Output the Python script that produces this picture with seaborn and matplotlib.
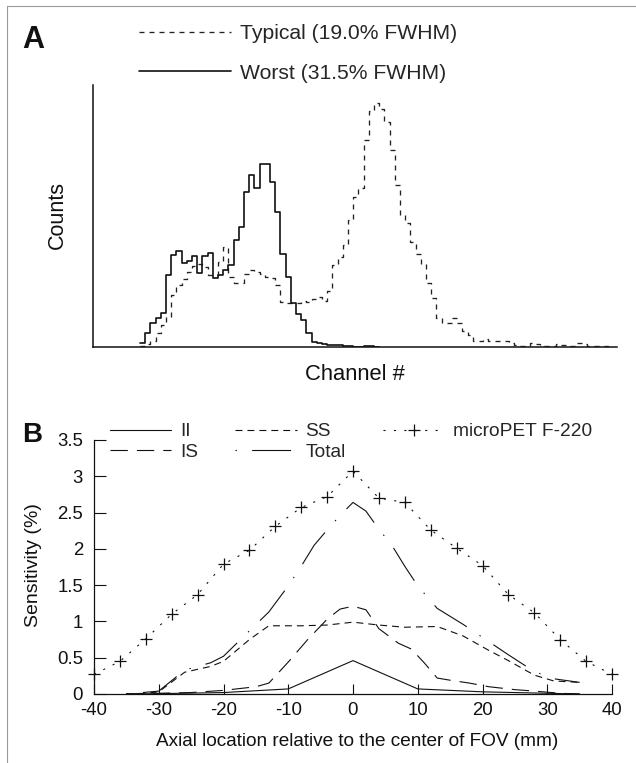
import numpy as np
import pandas as pd
import matplotlib
matplotlib.use("Agg")
import matplotlib.pyplot as plt
import seaborn as sns
from matplotlib.lines import Line2D

# ---------------- Panel A: energy spectra (counts per channel bin) ----------------
worst_counts = [4, 14, 24, 29, 34, 72, 92, 96, 84, 86, 91, 74, 91, 94, 69, 72, 77, 82,
                107, 120, 155, 172, 159, 183, 183, 165, 135, 93, 70, 44, 33, 27, 14, 5,
                4, 3, 2.5, 2, 2, 1.5, 1, 0.5, 0.5, 1, 1, 0.5]
typical_counts = [1.5, 3, 6, 14, 22, 30, 52, 62, 68, 75, 81, 83, 80, 72, 72, 85, 100, 70,
                  64, 64, 73, 77, 75, 73, 70, 69, 62, 45, 44, 44, 44, 46, 45, 48, 50, 46,
                  56, 82, 90, 102, 127, 150, 159, 207, 236, 244, 238, 225, 197, 162, 132,
                  124, 105, 93, 83, 64, 49, 29, 24, 24, 29, 24, 16, 12, 6, 6, 7.7, 6, 6,
                  6, 6, 4, 2, 1, 1, 3.7, 3, 1.5, 1, 1, 3, 2, 1, 1.5, 3.7, 3, 1.5, 1, 1, 1, 0.5]
channel_range = (-9.04, 91.73)
counts_range = (0, 262)
label_typical = "Typical (19.0% FWHM)"
label_worst = "Worst (31.5% FWHM)"

# ---------------- Panel B: sensitivity profiles ----------------
ii_x = [-35, -30, -20, -10, 0, 10, 20, 30, 35]
ii_y = [0.0, 0.005, 0.02, 0.07, 0.46, 0.07, 0.03, 0.01, 0.0]

ss_x = [-35, -32, -30, -26, -22, -20, -16, -13, -8, -4, 0, 4, 8, 13, 17, 21, 24, 28, 31, 35]
ss_y = [0.0, 0.01, 0.03, 0.30, 0.38, 0.45, 0.75, 0.94, 0.94, 0.95, 0.99, 0.95, 0.92, 0.93,
        0.80, 0.60, 0.46, 0.26, 0.18, 0.16]

is_x = [-35, -30, -25, -20, -15, -13, -10, -7, -4, -2, 0, 2, 4, 7, 9, 11, 13, 15, 18, 21,
        25, 28, 32, 35]
is_y = [0.0, 0.01, 0.02, 0.05, 0.10, 0.15, 0.44, 0.75, 1.03, 1.17, 1.21, 1.16, 0.90, 0.70,
        0.62, 0.43, 0.22, 0.19, 0.15, 0.10, 0.06, 0.04, 0.01, 0.0]

total_x = [-35, -30, -26, -22, -20, -16, -13, -10, -8, -6, -4, -2, 0, 2, 4, 6, 8, 10, 13,
           17, 21, 24, 28, 31, 35]
total_y = [0.0, 0.04, 0.33, 0.43, 0.52, 0.87, 1.13, 1.49, 1.76, 2.05, 2.26, 2.46, 2.64,
           2.52, 2.27, 2.05, 1.76, 1.49, 1.18, 0.96, 0.72, 0.54, 0.31, 0.21, 0.16]

micro_x = [-40, -36, -32, -28, -24, -20, -16, -12, -8, -4, 0, 4, 8, 12, 16, 20, 24, 28, 32, 36, 40]
micro_y = [0.27, 0.45, 0.76, 1.10, 1.37, 1.79, 1.98, 2.31, 2.57, 2.72, 3.07, 2.70, 2.64,
           2.26, 2.01, 1.77, 1.37, 1.12, 0.75, 0.45, 0.27]

x_ticks = [-40, -30, -20, -10, 0, 10, 20, 30, 40]
x_tick_labels = ["-40", "-30", "-20", "-10", "0", "10", "20", "30", "40"]
y_ticks = [0, 0.5, 1, 1.5, 2, 2.5, 3, 3.5]
y_tick_labels = ["0", "0.5", "1", "1.5", "2", "2.5", "3", "3.5"]

# ---------------- style ----------------
sns.set_theme(style="white")
plt.rcParams["font.family"] = ["Liberation Sans", "DejaVu Sans"]
plt.rcParams["lines.scale_dashes"] = False
ink = "#111111"

W, H = 636, 763
fig = plt.figure(figsize=(W / 100, H / 100), dpi=100)
fig.patch.set_facecolor("white")


def fx(px):
    return px / W


def fy(py):
    return 1 - py / H


# ---------------- Panel A ----------------
axA = fig.add_axes([fx(93), fy(347), (617 - 93) / W, (347 - 85) / H])
df_typ = pd.DataFrame({"channel": np.arange(len(typical_counts)) + 0.5,
                       "counts": typical_counts})
df_wor = pd.DataFrame({"channel": np.arange(len(worst_counts)) + 0.5,
                       "counts": worst_counts})
typ_style = dict(color="#222222", linewidth=0.95, linestyle=(0, (3.6, 3.6)))
wor_style = dict(color=ink, linewidth=1.2, linestyle="-")
sns.histplot(data=df_typ, x="channel", weights="counts", binwidth=1,
             binrange=(0, len(typical_counts)), element="step", fill=False, ax=axA,
             **typ_style)
sns.histplot(data=df_wor, x="channel", weights="counts", binwidth=1,
             binrange=(0, len(worst_counts)), element="step", fill=False, ax=axA,
             **wor_style)
axA.set_xlim(*channel_range)
axA.set_ylim(*counts_range)
axA.set_xticks([])
axA.set_yticks([])
axA.set_xlabel("")
axA.set_ylabel("")
sns.despine(ax=axA)
for s in ("left", "bottom"):
    axA.spines[s].set_color(ink)
    axA.spines[s].set_linewidth(1.1)

hA = [Line2D([], [], **typ_style), Line2D([], [], **wor_style)]
fig.legend(hA, [label_typical, label_worst], loc="upper left",
           bbox_to_anchor=(fx(139), fy(24)), frameon=False, fontsize=15.2,
           handlelength=4.35, handletextpad=0.45, labelspacing=0.98,
           borderpad=0, borderaxespad=0)

fig.text(fx(33.5), fy(48), "A", fontsize=22, fontweight="bold", ha="center",
         va="baseline", color=ink)
fig.text(fx(63), fy(215), "Counts", fontsize=15.5, rotation=90, rotation_mode="anchor",
         ha="center", va="baseline", color=ink)
fig.text(fx(355), fy(380), "Channel #", fontsize=15.8, ha="center", va="baseline", color=ink)

# ---------------- Panel B ----------------
axB = fig.add_axes([fx(94), fy(694), (612 - 94) / W, (694 - 440) / H])
lw = 0.8
ii_style = dict(color=ink, linewidth=lw, linestyle="-")
is_style = dict(color=ink, linewidth=lw, linestyle=(0, (12.5, 6.5)))
ss_style = dict(color=ink, linewidth=lw, linestyle=(0, (5.0, 3.6)))
tot_style = dict(color=ink, linewidth=lw, linestyle=(0, (1.0, 11.0, 28.0, 11.0)))
mic_style = dict(color=ink, linewidth=lw, linestyle=(0, (1.5, 6.0)))

sns.lineplot(x=ii_x, y=ii_y, ax=axB, legend=False, **ii_style)
sns.lineplot(x=is_x, y=is_y, ax=axB, legend=False, **is_style)
sns.lineplot(x=ss_x, y=ss_y, ax=axB, legend=False, **ss_style)
sns.lineplot(x=total_x, y=total_y, ax=axB, legend=False, **tot_style)
sns.lineplot(x=micro_x, y=micro_y, ax=axB, legend=False, **mic_style)
sns.scatterplot(x=micro_x, y=micro_y, ax=axB, marker="+", s=85, color=ink,
                linewidth=0.9, legend=False, zorder=4, clip_on=False)
for ln in axB.get_lines():
    ln.set_clip_on(False)

axB.set_xlim(-40, 40)
axB.set_ylim(0, 3.5)
axB.set_xticks(x_ticks, x_tick_labels)
axB.set_yticks(y_ticks, y_tick_labels)
axB.set_xlabel("")
axB.set_ylabel("")
sns.despine(ax=axB)
for s in ("left", "bottom"):
    axB.spines[s].set_color(ink)
    axB.spines[s].set_linewidth(0.9)
axB.tick_params(axis="both", direction="in", colors=ink, width=0.8, labelsize=13.4,
                bottom=True, left=True)
axB.tick_params(axis="x", length=7.2, pad=6)
axB.tick_params(axis="y", length=8.5, pad=8)

hB = [Line2D([], [], **ii_style), Line2D([], [], **is_style),
      Line2D([], [], **ss_style), Line2D([], [], **tot_style),
      Line2D([], [], marker="+", markersize=9.2, markeredgewidth=0.9, **mic_style)]
lB = ["II", "IS", "SS", "Total", "microPET F-220"]
fig.legend(hB, lB, ncol=3, loc="upper left", bbox_to_anchor=(fx(110), fy(423)),
           frameon=False, fontsize=13.8, handlelength=3.2, handletextpad=0.45,
           columnspacing=1.95, labelspacing=0.15, borderpad=0, borderaxespad=0,
           numpoints=1)

fig.text(fx(32.5), fy(442), "B", fontsize=20, fontweight="bold", ha="center",
         va="baseline", color=ink)
fig.text(fx(38.5), fy(565), "Sensitivity (%)", fontsize=14, rotation=90,
         rotation_mode="anchor", ha="center", va="baseline", color=ink)
fig.text(fx(357), fy(746), "Axial location relative to the center of FOV (mm)",
         fontsize=13.7, ha="center", va="baseline", color=ink)

# thin frame of the original figure
fig.add_artist(Line2D([fx(7), fx(7)], [0, fy(6)], color="#9a9a9a", linewidth=0.8))
fig.add_artist(Line2D([fx(7), 1], [fy(6), fy(6)], color="#9a9a9a", linewidth=0.8))

fig.savefig("out.png", dpi=100, facecolor="white")
